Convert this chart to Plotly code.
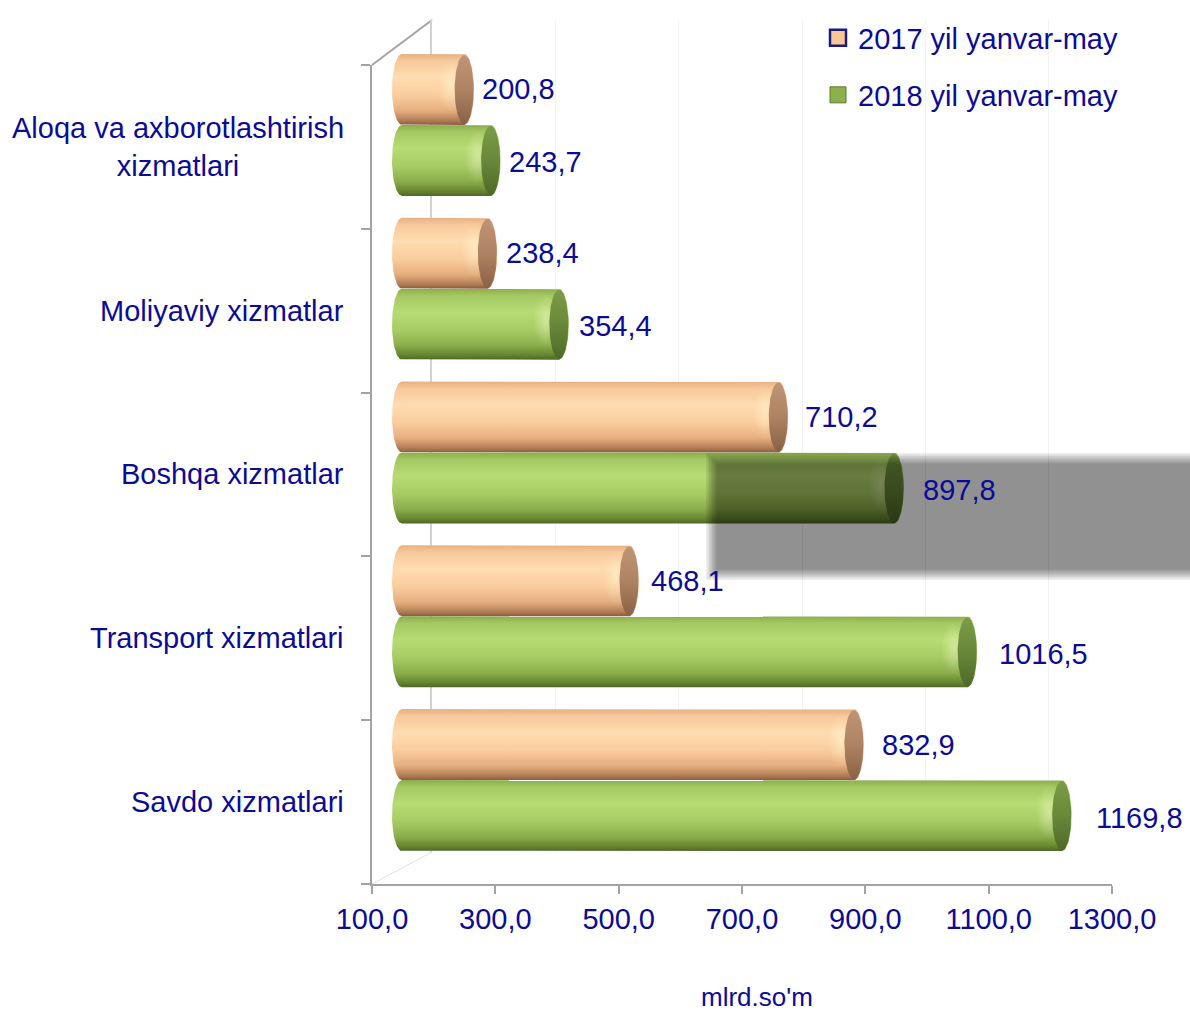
import numpy as np
import plotly.graph_objects as go

# ---------------- data ----------------
categories = ["Aloqa va axborotlashtirish<br>xizmatlari", "Moliyaviy xizmatlar",
              "Boshqa xizmatlar", "Transport xizmatlari", "Savdo xizmatlari"]
series_names = ["2017 yil yanvar-may", "2018 yil yanvar-may"]
values_2017 = [200.8, 238.4, 710.2, 468.1, 832.9]
values_2018 = [243.7, 354.4, 897.8, 1016.5, 1169.8]
x_tick_vals = [100, 300, 500, 700, 900, 1100, 1300]
x_tick_text = ["100,0", "300,0", "500,0", "700,0", "900,0", "1100,0", "1300,0"]
unit_label = "mlrd.so'm"

# ---------------- geometry / style ----------------
W, H = 1190, 1012
FONT = "Arial, 'Liberation Sans', sans-serif"
NAVY = "#0b0b96"
AXIS = "#a3a3a3"
FS = 29
XMIN, XMAX = 100, 1300


def dx(a, b):
    return [a / W, b / W]


def dy(top, bottom):
    return [1 - bottom / H, 1 - top / H]


front_x, front_y = (372, 1112), (65, 884)
back_x, back_y = (432, 1172), (20, 852)
bar_px0, bar_px1 = 402, 1142            # pixel span of value 100..1300 in the bar plane
bar_y = (43, 862)

px_per_unit = (bar_px1 - bar_px0) / (XMAX - XMIN)
RX = 10 / px_per_unit          # end-cap horizontal radius (data units)
HH = 0.2167                    # half height of one cylinder (category units)
BAR_LO = XMIN - 3 * RX         # extend bar-plane range so the rounded start is visible
bar_x = (bar_px0 - 3 * 10, bar_px1)


def flip(cs):
    return [[1 - p, c] for p, c in reversed(cs)]


# colours listed top -> bottom
cs_orange = flip([[0, "#E6B083"], [0.1, "#F7C99A"], [0.33, "#FFDCB2"], [0.58, "#FACD9D"],
                  [0.8, "#E6AE7F"], [0.93, "#B58058"], [1, "#8A5C3E"]])
cs_green = flip([[0, "#8BAC4E"], [0.1, "#A5C962"], [0.33, "#B8DC74"], [0.58, "#A8CC64"],
                 [0.8, "#8AAD4C"], [0.93, "#688630"], [1, "#4E6825"]])
cap_orange = flip([[0, "#C09474"], [0.5, "#AE8363"], [1, "#8A6146"]])
cap_green = flip([[0, "#7B9C46"], [0.5, "#69883A"], [1, "#4F6928"]])
styles = [(cs_orange, cap_orange), (cs_green, cap_green)]

fig = go.Figure()

# invisible traces so the front and back-wall subplots exist
fig.add_trace(go.Scatter(x=[None], y=[None], xaxis="x2", yaxis="y2",
                         showlegend=False, hoverinfo="skip"))
fig.add_trace(go.Scatter(x=[None], y=[None], xaxis="x", yaxis="y",
                         showlegend=False, hoverinfo="skip"))

t_half = np.linspace(-np.pi / 2, np.pi / 2, 40)
t_full = np.linspace(0, 2 * np.pi, 80)
annotations = []

for i, cat in enumerate(categories):
    for s, vals in enumerate([values_2017, values_2018]):
        v = vals[i]
        yc = i + (-HH if s == 0 else HH)
        body_cs, cap_cs = styles[s]
        # body: rounded left end, rect, rounded right end
        xs = [XMIN, v]
        ys = [yc - HH, yc - HH]
        xs += list(v + RX * np.cos(t_half))
        ys += list(yc + HH * np.sin(t_half))
        xs += [v, XMIN]
        ys += [yc + HH, yc + HH]
        xs += list(XMIN - RX * np.cos(t_half[::-1]))
        ys += list(yc + HH * np.sin(t_half[::-1]))
        fig.add_trace(go.Scatter(x=xs, y=ys, mode="lines", fill="toself",
                                 line=dict(width=0),
                                 fillgradient=dict(type="vertical", colorscale=body_cs),
                                 xaxis="x3", yaxis="y3", showlegend=False,
                                 hoverinfo="skip"))
        # soft specular highlight next to the end cap
        fig.add_trace(go.Scatter(x=list(v - 1.3 * RX + 1.3 * RX * np.cos(t_full)),
                                 y=list(yc - 0.1 * HH + 0.75 * HH * np.sin(t_full)),
                                 mode="lines", fill="toself", line=dict(width=0),
                                 fillgradient=dict(type="radial",
                                                   colorscale=[[0, "rgba(255,255,220,0.42)"],
                                                               [0.55, "rgba(255,255,220,0.18)"],
                                                               [1, "rgba(255,255,220,0)"]]),
                                 xaxis="x3", yaxis="y3", showlegend=False,
                                 hoverinfo="skip"))
        # end cap
        fig.add_trace(go.Scatter(x=list(v + 0.95 * RX * np.cos(t_full)),
                                 y=list(yc + 0.97 * HH * np.sin(t_full)),
                                 mode="lines", fill="toself", line=dict(width=0),
                                 fillgradient=dict(type="vertical", colorscale=cap_cs),
                                 xaxis="x3", yaxis="y3", showlegend=False,
                                 hoverinfo="skip"))
        # value label (labels sit in a slightly nearer plane -> slightly larger scale)
        annotations.append(dict(x=v, y=yc, xref="x3", yref="y3", xanchor="left",
                                yanchor="middle", xshift=14 + 0.0169 * (v - XMIN),
                                yshift=-2 if s == 1 else 0, showarrow=False,
                                text=f"{v:.1f}".replace(".", ","),
                                font=dict(family=FONT, size=FS, color=NAVY)))
    annotations.append(dict(x=346 / W, y=i, xref="paper", yref="y", xanchor="right",
                            yanchor="middle", align="center", showarrow=False,
                            text=cat, font=dict(family=FONT, size=FS, color=NAVY)))

# legend entries
fig.add_trace(go.Scatter(x=[None], y=[None], mode="markers", name=series_names[0],
                         marker=dict(symbol="square", size=16, color="#FBC796",
                                     line=dict(color="#1c1c78", width=2.5)),
                         xaxis="x3", yaxis="y3", legend="legend"))
fig.add_trace(go.Scatter(x=[None], y=[None], mode="markers", name=series_names[1],
                         marker=dict(symbol="square", size=16, color="#8DB04C",
                                     line=dict(color="#5d7a2f", width=1)),
                         xaxis="x3", yaxis="y3", legend="legend2"))

annotations.append(dict(x=757 / W, y=0, xref="paper", yref="paper", xanchor="center",
                        yanchor="bottom", yshift=-2, showarrow=False, text=unit_label,
                        font=dict(family=FONT, size=26, color=NAVY)))

shapes = [
    dict(type="line", xref="paper", yref="paper", x0=372 / W, y0=1 - 65 / H,
         x1=432 / W, y1=1 - 20 / H, line=dict(color=AXIS, width=2), layer="below"),
    dict(type="line", xref="paper", yref="paper", x0=372 / W, y0=1 - 884 / H,
         x1=432 / W, y1=1 - 852 / H, line=dict(color="#e2e2e2", width=1), layer="below"),
]
# soft shadow box (stacked translucent layers give a blurred edge)
n_layers = 8
for k in range(n_layers):
    inset = k * 1.5
    shapes.append(dict(type="rect", xref="paper", yref="paper",
                       x0=(706 + inset) / W, x1=1.0,
                       y0=1 - (580 - inset) / H, y1=1 - (453 + inset) / H,
                       fillcolor="rgba(0,0,0,0.068)", line=dict(width=0), layer="above"))

fig.update_layout(
    template="none",
    width=W, height=H,
    margin=dict(l=0, r=0, t=0, b=0),
    paper_bgcolor="white", plot_bgcolor="rgba(0,0,0,0)",
    font=dict(family=FONT, size=FS, color=NAVY),
    xaxis=dict(domain=dx(*front_x), range=[XMIN, XMAX], anchor="y",
               tickvals=x_tick_vals, ticktext=x_tick_text, ticks="outside",
               ticklen=8, tickwidth=2, tickcolor=AXIS, showline=True, linewidth=2,
               linecolor=AXIS, showgrid=False, zeroline=False,
               tickfont=dict(family=FONT, size=FS, color=NAVY)),
    yaxis=dict(domain=dy(*front_y), range=[4.5, -0.5], anchor="x",
               tickvals=[-0.5, 0.5, 1.5, 2.5, 3.5, 4.5], showticklabels=False,
               ticks="outside", ticklen=9, tickwidth=2, tickcolor=AXIS,
               showline=True, linewidth=2, linecolor=AXIS, showgrid=False,
               zeroline=False),
    xaxis2=dict(domain=dx(*back_x), range=[XMIN, XMAX], anchor="y2",
                tickvals=x_tick_vals, showticklabels=False, ticks="",
                showgrid=True, gridcolor="#f3f3f3", gridwidth=1, zeroline=False,
                showline=False),
    yaxis2=dict(domain=dy(*back_y), range=[0, 1], anchor="x2", showgrid=False,
                showticklabels=False, ticks="", zeroline=False, showline=True,
                linecolor="#d2d2d2", linewidth=1.5),
    xaxis3=dict(domain=dx(*bar_x), range=[BAR_LO, XMAX], anchor="y3", visible=False),
    yaxis3=dict(domain=dy(*bar_y), range=[4.5, -0.5], anchor="x3", visible=False),
    legend=dict(x=818 / W, y=1 - 38 / H, xanchor="left", yanchor="middle",
                bgcolor="rgba(0,0,0,0)", font=dict(family=FONT, size=FS, color=NAVY)),
    legend2=dict(x=818 / W, y=1 - 95 / H, xanchor="left", yanchor="middle",
                 bgcolor="rgba(0,0,0,0)", font=dict(family=FONT, size=FS, color=NAVY)),
    annotations=annotations,
    shapes=shapes,
    hovermode=False,
)

fig.write_html("out.html", config={"displayModeBar": False},
               post_script="document.body.style.margin='0';document.body.style.overflow='hidden';")
